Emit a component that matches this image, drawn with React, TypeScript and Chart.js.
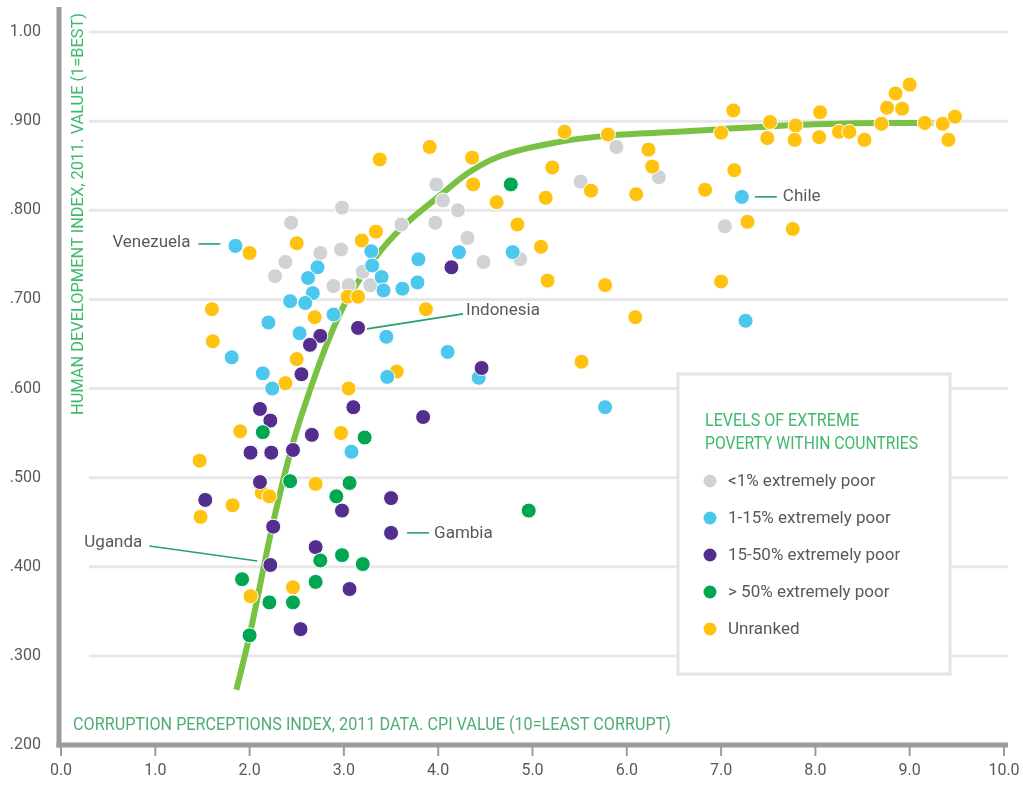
import React, { useEffect, useRef } from 'react';
import { Chart, registerables } from 'chart.js';

Chart.register(...registerables);

// ---------- Data (CPI value, HDI value) ----------
const SERIES_LABELS = [
  '<1% extremely poor',
  '1-15% extremely poor',
  '15-50% extremely poor',
  '> 50% extremely poor',
  'Unranked',
];

const POOR_UNDER_1: [number, number][] = [
  [2.44, 0.786], [2.98, 0.803], [2.38, 0.742], [2.27, 0.726], [2.75, 0.752],
  [2.97, 0.756], [2.89, 0.715], [3.05, 0.716], [3.2, 0.731], [3.28, 0.716],
  [3.61, 0.784], [3.97, 0.786], [3.98, 0.829], [4.05, 0.811], [4.21, 0.8],
  [4.31, 0.769], [4.48, 0.742], [4.87, 0.745], [5.51, 0.832], [5.89, 0.871],
  [6.34, 0.837], [7.04, 0.782],
];

const POOR_1_15: [number, number][] = [
  [1.85, 0.76], [2.72, 0.736], [2.62, 0.724], [2.67, 0.707], [2.43, 0.698],
  [2.59, 0.696], [2.2, 0.674], [2.89, 0.683], [2.53, 0.662], [1.81, 0.635],
  [2.14, 0.617], [2.24, 0.6], [3.29, 0.754], [3.3, 0.738], [3.4, 0.725],
  [3.42, 0.71], [3.62, 0.712], [3.78, 0.719], [3.79, 0.745], [4.22, 0.753],
  [4.79, 0.753], [3.45, 0.658], [4.1, 0.641], [3.46, 0.613], [4.43, 0.612],
  [5.77, 0.579], [7.22, 0.815], [7.26, 0.676], [3.08, 0.529],
];

const POOR_15_50: [number, number][] = [
  [3.15, 0.668], [4.14, 0.736], [4.46, 0.623], [2.75, 0.659], [2.64, 0.649],
  [2.55, 0.616], [2.11, 0.577], [2.22, 0.564], [3.1, 0.579], [3.84, 0.568],
  [2.66, 0.548], [2.01, 0.528], [2.23, 0.528], [2.46, 0.531], [2.11, 0.495],
  [1.53, 0.475], [2.25, 0.445], [3.5, 0.477], [2.98, 0.463], [3.5, 0.438],
  [2.7, 0.422], [2.22, 0.402], [3.06, 0.375], [2.54, 0.33],
];

const POOR_OVER_50: [number, number][] = [
  [4.77, 0.829], [4.96, 0.463], [2.14, 0.551], [3.22, 0.545], [2.43, 0.496],
  [3.06, 0.494], [2.92, 0.479], [2.98, 0.413], [2.75, 0.407], [3.2, 0.403],
  [1.92, 0.386], [2.7, 0.383], [2.21, 0.36], [2.46, 0.36], [2.0, 0.323],
];

const UNRANKED: [number, number][] = [
  [2.5, 0.763], [2.0, 0.752], [1.6, 0.689], [1.61, 0.653], [2.69, 0.68],
  [2.5, 0.633], [2.38, 0.606], [1.9, 0.552], [2.97, 0.55], [3.05, 0.6],
  [3.04, 0.703], [3.15, 0.703], [3.19, 0.766], [3.34, 0.776], [3.38, 0.857],
  [3.91, 0.871], [4.36, 0.859], [4.37, 0.829], [4.62, 0.809], [4.84, 0.784],
  [5.09, 0.759], [5.16, 0.721], [3.87, 0.689], [5.34, 0.888], [5.8, 0.885],
  [5.21, 0.848], [5.14, 0.814], [5.62, 0.822], [6.1, 0.818], [6.23, 0.868],
  [6.27, 0.849], [5.77, 0.716], [6.09, 0.68], [3.56, 0.619], [5.52, 0.63],
  [6.83, 0.823], [7.14, 0.845], [7.0, 0.887], [7.13, 0.912], [7.52, 0.899],
  [7.49, 0.881], [7.79, 0.895], [7.78, 0.879], [8.05, 0.91], [8.04, 0.882],
  [8.25, 0.888], [8.36, 0.888], [8.52, 0.879], [8.7, 0.897], [8.76, 0.915],
  [8.85, 0.931], [8.92, 0.914], [9.0, 0.941], [9.16, 0.898], [9.35, 0.897],
  [9.48, 0.905], [9.41, 0.879], [7.28, 0.787], [7.76, 0.779], [7.0, 0.72],
  [1.47, 0.519], [2.7, 0.493], [2.13, 0.483], [2.21, 0.479], [1.82, 0.469],
  [1.48, 0.456], [2.46, 0.377], [2.01, 0.367],
];

// trend curve
const TREND_CPI = [1.86, 2.0, 2.24, 2.46, 2.64, 2.85, 3.03, 3.34, 3.62, 4.0, 4.32, 4.64, 5.3, 5.83, 6.54, 7.0, 7.88, 8.7, 9.25];
const TREND_HDI = [0.262, 0.323, 0.445, 0.539, 0.598, 0.658, 0.699, 0.748, 0.781, 0.815, 0.842, 0.86, 0.877, 0.884, 0.888, 0.891, 0.896, 0.898, 0.898];

const X_TICK_LABELS = ['0.0', '1.0', '2.0', '3.0', '4.0', '5.0', '6.0', '7.0', '8.0', '9.0', '10.0'];
const Y_TICK_LABELS = ['.200', '.300', '.400', '.500', '.600', '.700', '.800', '.900', '1.00'];

const ANNOTATION_LABELS = ['Venezuela', 'Indonesia', 'Chile', 'Gambia', 'Uganda'];
const ANNOTATION_CPI = [1.85, 3.15, 7.22, 3.5, 2.22];
const ANNOTATION_HDI = [0.76, 0.668, 0.815, 0.438, 0.402];

const X_TITLE = 'CORRUPTION PERCEPTIONS INDEX, 2011 DATA. CPI VALUE (10=LEAST CORRUPT)';
const Y_TITLE = 'HUMAN DEVELOPMENT INDEX, 2011. VALUE (1=BEST)';
const LEGEND_TITLE = ['LEVELS OF EXTREME', 'POVERTY WITHIN COUNTRIES'];

// ---------- Styles ----------
const COLORS = ['#d1d2d4', '#4cc8ef', '#532e8f', '#00a651', '#ffc20e'];
const TREND_COLOR = '#79c143';
const TEXT_COLOR = '#58595b';
const TITLE_GREEN = '#3fba6c';
const XTITLE_GREEN = '#4fae76';
const LINK_COLOR = '#25a06e';
const AXIS_COLOR = '#9c9c9e';
const GRID_COLOR = '#e7e7e8';
const FONT = 'Roboto, "Noto Sans", sans-serif';

// annotation layout offsets relative to the marked point (px)
const ANNOTATION_LAYOUT: Record<string, { l: [number, number, number, number]; tx: number; ty: number; align: CanvasTextAlign }> = {
  Venezuela: { l: [-37, -2, -15, -2], tx: -45, ty: -3, align: 'right' },
  Indonesia: { l: [9, 1, 105, -14], tx: 108, ty: -17, align: 'left' },
  Chile: { l: [13, 0, 35, 0], tx: 41, ty: 0, align: 'left' },
  Gambia: { l: [16, 0, 38, 0], tx: 43, ty: 1, align: 'left' },
  Uganda: { l: [-121, -19, -13, -4], tx: -128, ty: -22, align: 'right' },
};

function fitText(ctx: CanvasRenderingContext2D, text: string, x: number, y: number, width: number) {
  const m = ctx.measureText(text).width;
  const s = width / m;
  ctx.save();
  ctx.translate(x, y);
  ctx.scale(s, 1);
  ctx.textAlign = 'left';
  ctx.fillText(text, 0, 0);
  ctx.restore();
}

const decorPlugin = {
  id: 'decor',
  beforeDatasetsDraw(chart: any) {
    const { ctx, scales } = chart;
    const ys = scales.y;
    ctx.save();
    ctx.strokeStyle = GRID_COLOR;
    ctx.lineWidth = 3;
    ys.ticks.forEach((t: any) => {
      if (t.value <= ys.min + 1e-6) return;
      const py = ys.getPixelForValue(t.value);
      ctx.beginPath();
      ctx.moveTo(89, py);
      ctx.lineTo(1008, py);
      ctx.stroke();
    });
    ctx.restore();
  },
  afterDatasetsDraw(chart: any) {
    const { ctx, scales, chartArea } = chart;
    const xs = scales.x;
    const ys = scales.y;
    ctx.save();

    // axis lines
    ctx.strokeStyle = AXIS_COLOR;
    ctx.lineWidth = 5;
    ctx.beginPath();
    ctx.moveTo(59, 7);
    ctx.lineTo(59, chartArea.bottom + 2.5);
    ctx.stroke();
    ctx.beginPath();
    ctx.moveTo(56.5, chartArea.bottom);
    ctx.lineTo(1008, chartArea.bottom);
    ctx.stroke();
    // x tick marks
    ctx.lineWidth = 2;
    xs.ticks.forEach((t: any) => {
      const px = xs.getPixelForValue(t.value);
      ctx.beginPath();
      ctx.moveTo(px, chartArea.bottom + 2);
      ctx.lineTo(px, chartArea.bottom + 11);
      ctx.stroke();
    });

    // axis titles
    ctx.fillStyle = XTITLE_GREEN;
    ctx.font = `18px ${FONT}`;
    ctx.textBaseline = 'alphabetic';
    fitText(ctx, X_TITLE, 73, 730, 598);

    ctx.fillStyle = TITLE_GREEN;
    ctx.font = `17px ${FONT}`;
    ctx.save();
    ctx.translate(83, 415);
    ctx.rotate(-Math.PI / 2);
    fitText(ctx, Y_TITLE, 0, 0, 402);
    ctx.restore();

    // annotations
    ctx.font = `17px ${FONT}`;
    ctx.textBaseline = 'middle';
    ANNOTATION_LABELS.forEach((label, i) => {
      const px = xs.getPixelForValue(ANNOTATION_CPI[i]);
      const py = ys.getPixelForValue(ANNOTATION_HDI[i]);
      const lay = ANNOTATION_LAYOUT[label];
      ctx.strokeStyle = LINK_COLOR;
      ctx.lineWidth = 1.6;
      ctx.beginPath();
      ctx.moveTo(px + lay.l[0], py + lay.l[1]);
      ctx.lineTo(px + lay.l[2], py + lay.l[3]);
      ctx.stroke();
      ctx.fillStyle = TEXT_COLOR;
      ctx.textAlign = lay.align;
      ctx.fillText(label, px + lay.tx, py + lay.ty);
    });

    // legend box
    ctx.fillStyle = '#ffffff';
    ctx.fillRect(678, 374, 272, 300);
    ctx.strokeStyle = '#e4e4e5';
    ctx.lineWidth = 3;
    ctx.strokeRect(678, 374, 272, 300);

    ctx.fillStyle = TITLE_GREEN;
    ctx.font = `18px ${FONT}`;
    ctx.textBaseline = 'alphabetic';
    fitText(ctx, LEGEND_TITLE[0], 705, 426, 154);
    fitText(ctx, LEGEND_TITLE[1], 705, 449, 213);

    ctx.font = `17px ${FONT}`;
    ctx.textBaseline = 'middle';
    ctx.textAlign = 'left';
    SERIES_LABELS.forEach((label, i) => {
      const cy = 481 + i * 37;
      ctx.fillStyle = COLORS[i];
      ctx.beginPath();
      ctx.arc(710, cy, 6.5, 0, Math.PI * 2);
      ctx.fill();
      ctx.fillStyle = TEXT_COLOR;
      ctx.fillText(label, 728, cy + 1);
    });

    ctx.restore();
  },
};

const SERIES = [POOR_UNDER_1, POOR_1_15, POOR_15_50, POOR_OVER_50, UNRANKED];
// drawing order: green on top, then purple, blue, yellow, gray
const SERIES_ORDER = [5, 3, 2, 1, 4];

export default function App() {
  const ref = useRef<HTMLCanvasElement>(null);
  useEffect(() => {
    if (!ref.current) return;
    const datasets: any[] = SERIES.map((pts, i) => ({
      label: SERIES_LABELS[i],
      data: pts.map(([x, y]) => ({ x, y })),
      backgroundColor: COLORS[i],
      borderColor: '#ffffff',
      borderWidth: 1,
      pointRadius: 7.5,
      order: SERIES_ORDER[i],
    }));
    datasets.push({
      label: 'trend',
      data: TREND_CPI.map((x, i) => ({ x, y: TREND_HDI[i] })),
      showLine: true,
      borderColor: TREND_COLOR,
      borderWidth: 6,
      pointRadius: 0,
      cubicInterpolationMode: 'monotone',
      borderCapStyle: 'butt',
      order: 10,
      clip: false,
    });
    const chart = new Chart(ref.current, {
      type: 'scatter',
      data: { datasets },
      options: {
        responsive: false,
        animation: false,
        layout: { padding: { top: 32, right: 19, left: 0, bottom: 0 } },
        plugins: { legend: { display: false }, tooltip: { enabled: false } },
        scales: {
          x: {
            type: 'linear',
            min: 0,
            max: 10,
            grid: { display: false, drawTicks: false },
            border: { display: false },
            ticks: {
              stepSize: 1,
              padding: 16,
              color: TEXT_COLOR,
              font: { family: FONT, size: 16 },
              maxRotation: 0,
              callback: (v: any) => X_TICK_LABELS[Math.round(Number(v))],
            },
            afterFit: (s: any) => { s.height = 40; s.paddingRight = 0; s.paddingLeft = 0; },
          },
          y: {
            type: 'linear',
            min: 0.2,
            max: 1.0,
            grid: { display: false, drawTicks: false },
            border: { display: false },
            ticks: {
              stepSize: 0.1,
              padding: 20,
              color: TEXT_COLOR,
              font: { family: FONT, size: 16 },
              callback: (v: any) => Y_TICK_LABELS[Math.round(Number(v) * 10) - 2],
            },
            afterFit: (s: any) => { s.width = 61; s.paddingTop = 0; s.paddingBottom = 0; },
          },
        },
      },
      plugins: [decorPlugin],
    } as any);
    return () => chart.destroy();
  }, []);
  return (
    <div style={{ position: 'absolute', left: 0, top: 0, width: 1023, height: 785, background: '#ffffff' }}>
      <canvas ref={ref} width={1023} height={785} style={{ display: 'block' }} />
    </div>
  );
}
